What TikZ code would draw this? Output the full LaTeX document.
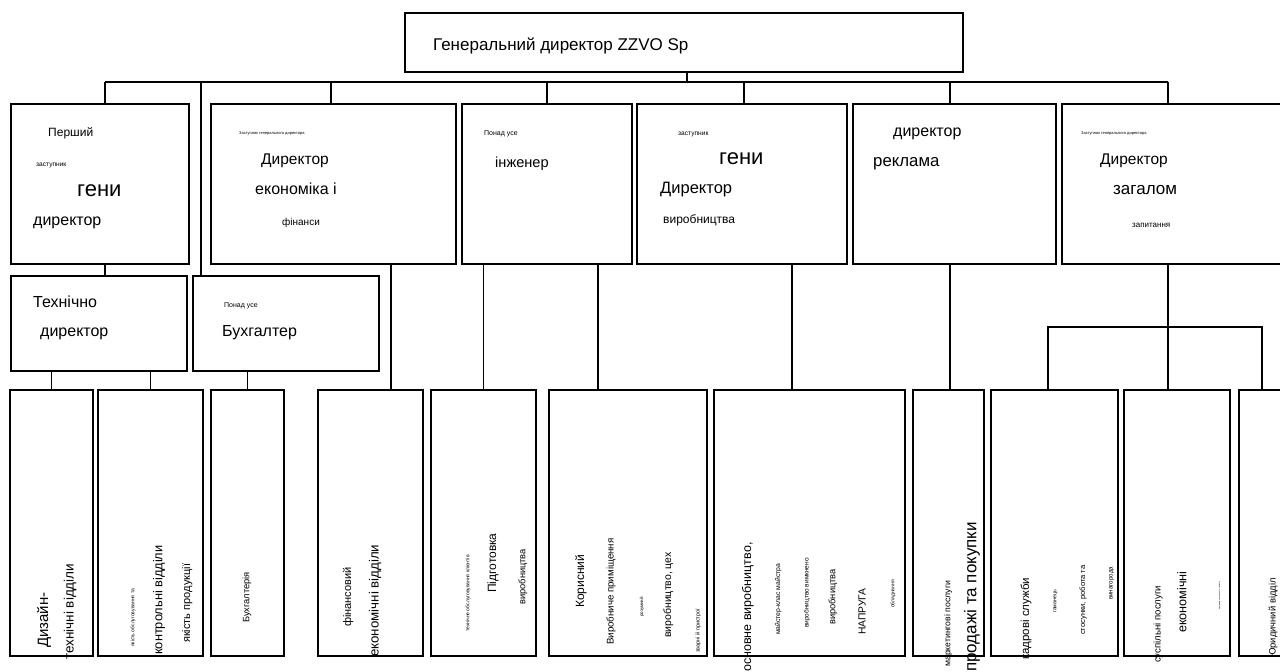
\documentclass[tikz,border=0pt]{standalone}
\usepackage{fontspec}
\setmainfont{Liberation Sans}
\begin{document}
\begin{tikzpicture}[x=1pt,y=-1pt,
  box/.style={draw, line width=2pt, inner sep=0pt, anchor=north west},
  conn/.style={line width=1.4pt},
  tx/.style={inner sep=0pt, anchor=base west, font=\fontsize{#1}{#1}\selectfont},
  rt/.style={inner sep=0pt, anchor=base west, rotate=90, font=\fontsize{#1}{#1}\selectfont}]
\useasboundingbox (0,0) rectangle (1280,672);
\clip (0,0) rectangle (1280,672);
\newcommand\bx[5]{\node[box, minimum width={#4pt-#2pt}, minimum height={#5pt-#3pt}] (#1) at (#2,#3) {};}
% boxes
\bx{top}{404}{12}{962}{71}
\bx{bA}{10}{103}{188}{263}
\bx{bB}{210}{103}{455}{263}
\bx{bC}{461}{103}{631}{263}
\bx{bD}{636}{103}{846}{263}
\bx{bE}{852}{103}{1055}{263}
\bx{bF}{1061}{103}{1300}{263}
\bx{bTech}{10}{275}{186}{370}
\bx{bBk}{192}{275}{378}{370}
\bx{d1}{9}{389}{92}{655}
\bx{d2}{97}{389}{202}{655}
\bx{d3}{210}{389}{283}{655}
\bx{d4}{317}{389}{422}{655}
\bx{d5}{430}{389}{535}{655}
\bx{d6}{548}{389}{706}{655}
\bx{d7}{713}{389}{904}{655}
\bx{d8}{912}{389}{983}{655}
\bx{d9}{990}{389}{1117}{655}
\bx{d10}{1123}{389}{1229}{655}
\bx{d11}{1238}{389}{1300}{655}
% junction coordinates
\coordinate (jT) at (687,82);
\coordinate (jA) at (105,82);
\coordinate (jBk) at (201,82);
\coordinate (jB) at (331,82);
\coordinate (jC) at (547,82);
\coordinate (jD) at (744,82);
\coordinate (jE) at (950,82);
\coordinate (jF) at (1168,82);
\coordinate (kB) at (391,0);
\coordinate (kC) at (598,0);
\coordinate (kD) at (792,0);
\coordinate (kF1) at (1048,0);
\coordinate (kF3) at (1262,0);
\coordinate (bar) at (0,327);
% connectors
\draw[conn] (jT |- top.south) -- (jT);
\draw[conn] (jA) -- (jF);
\draw[conn] (jA) -- (jA |- bA.north);
\draw[conn] (jBk) -- (jBk |- bBk.north);
\draw[conn] (jB) -- (jB |- bB.north);
\draw[conn] (jC) -- (jC |- bC.north);
\draw[conn] (jD) -- (jD |- bD.north);
\draw[conn] (jE) -- (jE |- bE.north);
\draw[conn] (jF) -- (jF |- bF.north);
\draw[conn] (jA |- bA.south) -- (jA |- bTech.north);
\draw[conn] (d1.north |- bTech.south) -- (d1.north);
\draw[conn] (d2.north |- bTech.south) -- (d2.north);
\draw[conn] (d3.north |- bBk.south) -- (d3.north);
\draw[conn] (kB |- bB.south) -- (kB |- d4.north);
\draw[conn] (d5.north |- bC.south) -- (d5.north);
\draw[conn] (kC |- bC.south) -- (kC |- d6.north);
\draw[conn] (kD |- bD.south) -- (kD |- d7.north);
\draw[conn] (jE |- bE.south) -- (jE |- d8.north);
\draw[conn] (jF |- bF.south) -- (jF |- d10.north);
\draw[conn] (kF1 |- d9.north) -- (kF1 |- bar) -- (kF3 |- bar) -- (kF3 |- d11.north);
% top text
\node[tx=17] (t0) at (433,50) {Генеральний директор ZZVO Sp};
% box A
\node[tx=12] (tA1) at (48,136) {Перший};
\node[tx=6.6] (tA2) at (36,166) {заступник};
\node[tx=22] (tA3) at (77,196) {гени};
\node[tx=16] (tA4) at (33,225) {директор};
% box B
\node[tx=4] (tB1) at (239,134) {Заступник генерального директора};
\node[tx=15.5] (tB2) at (261,164) {Директор};
\node[tx=16] (tB3) at (255,194) {економіка і};
\node[tx=10] (tB4) at (282,225) {фінанси};
% box C
\node[tx=7] (tC1) at (484,135) {Понад усе};
\node[tx=14.6] (tC2) at (495,167) {інженер};
% box D
\node[tx=6.6] (tD1) at (678,135) {заступник};
\node[tx=22] (tD2) at (719,164) {гени};
\node[tx=16.5] (tD3) at (660,193) {Директор};
\node[tx=12] (tD4) at (663,223) {виробництва};
% box E
\node[tx=16] (tE1) at (893,136) {директор};
\node[tx=16.8] (tE2) at (873,166) {реклама};
% box F
\node[tx=4] (tF1) at (1081,134) {Заступник генерального директора};
\node[tx=15.5] (tF2) at (1100,164) {Директор};
\node[tx=17] (tF3) at (1113,194) {загалом};
\node[tx=8] (tF4) at (1132,227) {запитання};
% level 2
\node[tx=16] (tT1) at (33,307) {Технічно};
\node[tx=16] (tT2) at (40,336) {директор};
\node[tx=7] (tK1) at (224,307) {Понад усе};
\node[tx=16] (tK2) at (222,336) {Бухгалтер};
% bottom rotated texts
\node[rt=15] (r1) at (48,648) {Дизайн-};
\node[rt=13.5] (r2) at (73.5,660) {технічні відділи};
\node[rt=5] (r3) at (134.3,647) {якість обслуговування та};
\node[rt=12.8] (r4) at (162.3,655) {контрольні відділи};
\node[rt=11] (r5) at (190,643) {якість продукції};
\node[rt=9.3] (r6) at (249.4,623) {Бухгалтерія};
\node[rt=11] (r7) at (351,627) {фінансовий};
\node[rt=13.3] (r8) at (378.5,657) {економічні відділи};
\node[rt=5] (r9) at (469.3,632) {технічне обслуговування клієнтів};
\node[rt=12] (r10) at (496,593) {Підготовка};
\node[rt=9.3] (r11) at (525.4,605) {виробництва};
\node[rt=12] (r12) at (584,608) {Корисний};
\node[rt=9.7] (r13) at (613.5,645) {Виробниче приміщення};
\node[rt=4.5] (r14) at (643,617) {розумний};
\node[rt=10.5] (r15) at (671,638) {виробництво, цех};
\node[rt=5.5] (r16) at (699.5,653) {зварні й пристрої};
\node[rt=12.5] (r17) at (751,672) {основне виробництво,};
\node[rt=6.8] (r18) at (780,635) {майстер-клас майстра};
\node[rt=6.5] (r19) at (808.7,628) {виробництво вимкнено};
\node[rt=9.3] (r20) at (835.4,625) {виробництва};
\node[rt=10.3] (r21) at (865.7,635) {НАПРУГА};
\node[rt=5] (r22) at (894.3,608) {обладнання};
\node[rt=8.7] (r23) at (950.3,667) {маркетингові послуги};
\node[rt=17] (r24) at (976.4,672) {продажі та покупки};
\node[rt=11.5] (r25) at (1029,660) {кадрові служби};
\node[rt=5.3] (r26) at (1056.4,613) {гаманець};
\node[rt=7.6] (r27) at (1085,635) {стосунки, робота та};
\node[rt=6.2] (r28) at (1112.6,600) {винагорода};
\node[rt=9.6] (r29) at (1160.5,663) {суспільні послуги};
\node[rt=12.6] (r30) at (1186.3,633) {економічні};
\node[rt=2] (r31) at (1220,610) {програми соціального захисту};
\node[rt=9.4] (r32) at (1275.5,658) {Юридичний відділ};
\end{tikzpicture}
\end{document}
